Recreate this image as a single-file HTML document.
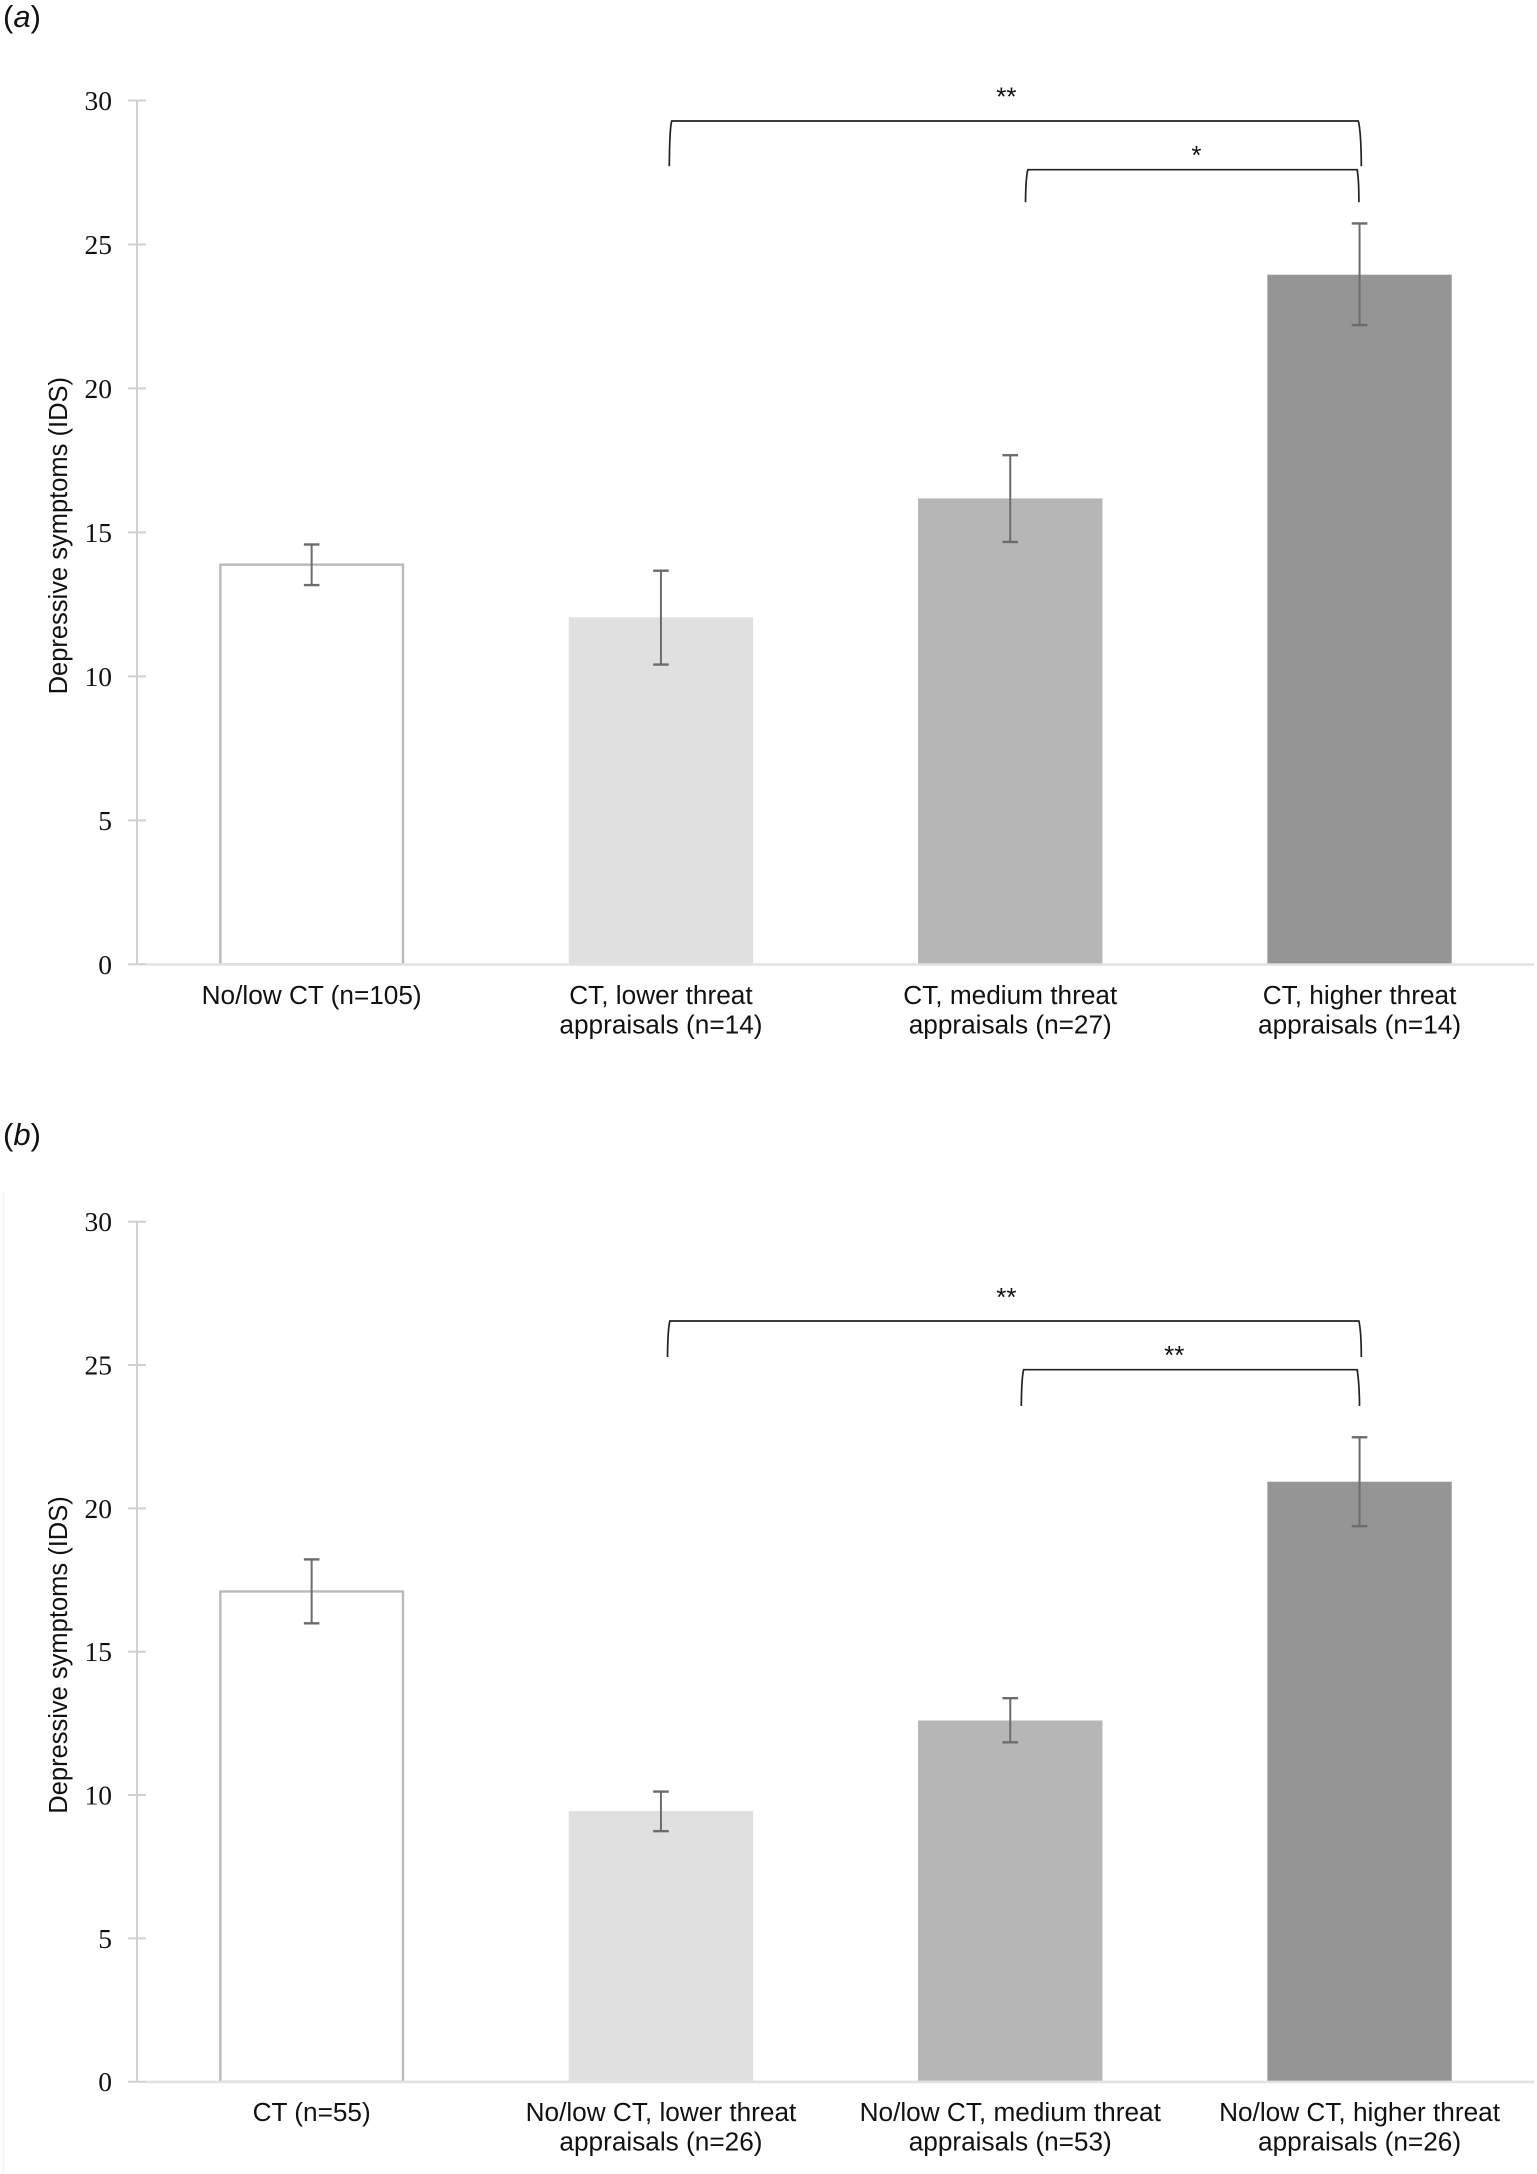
<!DOCTYPE html>
<html lang="en">
<head>
<meta charset="utf-8">
<title>Depressive symptoms by threat appraisals</title>
<style>
html,body{margin:0;padding:0;background:#fff;}
svg{display:block;}
.sans{font-family:"Liberation Sans",Arial,sans-serif;fill:#111;}
.serif{font-family:"Liberation Serif","Times New Roman",serif;fill:#111;}
</style>
</head>
<body>
<svg id="figure" xmlns="http://www.w3.org/2000/svg" width="1537" height="2174" viewBox="0 0 1537 2174">
  <rect x="0" y="0" width="1537" height="2174" fill="#ffffff"/>
  <line x1="3.5" y1="1193" x2="3.5" y2="2174" stroke="#f3f3f3" stroke-width="1.5"/>

  <text class="sans" x="3" y="27" font-size="31">(<tspan font-style="italic">a</tspan>)</text>
  <text class="sans" x="3" y="1145" font-size="31">(<tspan font-style="italic">b</tspan>)</text>

  <g id="panel-a"></g>
  <g id="panel-b"></g>

  <g fill="none" stroke="#222" stroke-width="1.7">
    <path d="M669.3,166.3 C669.5,142 670.3,126 671.7,121 L1358.3,121 C1359.8,126 1361.3,142 1361.3,166.3"/>
    <path d="M1025.5,202.3 C1025.7,186 1026.5,174 1027.9,169.7 L1357.1,169.7 C1358,174 1358.9,186 1358.9,202.3"/>
  </g>
  <text class="sans" x="1006.4" y="105.5" font-size="26" text-anchor="middle">**</text>
  <text class="sans" x="1196.4" y="163.8" font-size="26" text-anchor="middle">*</text>

  <g fill="none" stroke="#222" stroke-width="1.7">
    <path d="M667.5,1357 C667.7,1338 668.5,1326 669.9,1321 L1358.9,1321 C1360,1326 1361.3,1338 1361.3,1357"/>
    <path d="M1021.3,1406 C1021.5,1388 1022.3,1374 1023.7,1369.7 L1357.1,1369.7 C1358,1374 1359.5,1388 1359.5,1406"/>
  </g>
  <text class="sans" x="1006.4" y="1306.1" font-size="26" text-anchor="middle">**</text>
  <text class="sans" x="1174.3" y="1364.1" font-size="26" text-anchor="middle">**</text>
</svg>
<script>
// Chart data
const yTicks = [0, 5, 10, 15, 20, 25, 30];
const yTitle = "Depressive symptoms (IDS)";

const categoriesA = [
  ["No/low CT (n=105)"],
  ["CT, lower threat", "appraisals (n=14)"],
  ["CT, medium threat", "appraisals (n=27)"],
  ["CT, higher threat", "appraisals (n=14)"]
];
const meansA = [13.88, 12.05, 16.18, 23.95];
const upperA = [14.58, 13.67, 17.68, 25.73];
const lowerA = [13.17, 10.41, 14.67, 22.2];

const categoriesB = [
  ["CT (n=55)"],
  ["No/low CT, lower threat", "appraisals (n=26)"],
  ["No/low CT, medium threat", "appraisals (n=53)"],
  ["No/low CT, higher threat", "appraisals (n=26)"]
];
const meansB = [17.1, 9.44, 12.6, 20.93];
const upperB = [18.22, 10.12, 13.38, 22.48];
const lowerB = [15.99, 8.74, 11.84, 19.38];

const barFills = ["#ffffff", "#e0e0e0", "#b6b6b6", "#959595"];

const NS = "http://www.w3.org/2000/svg";
const PLOT_LEFT = 137, PLOT_RIGHT = 1534, BAND = 349.3, BAR_W = 184.4, CAP_W = 15.6;

function make(parent, tag, attrs, text) {
  const el = document.createElementNS(NS, tag);
  for (const k in attrs) el.setAttribute(k, attrs[k]);
  if (text !== undefined) el.textContent = text;
  parent.appendChild(el);
  return el;
}

function drawPanel(rootId, prefix, y30px, y0px, categories, means, upper, lower) {
  const root = document.getElementById(rootId);
  const yMax = yTicks[yTicks.length - 1];
  const yScale = v => y0px - (v / yMax) * (y0px - y30px);
  const xCenter = i => PLOT_LEFT + BAND * (i + 0.5);

  // y axis title
  const midY = (y0px + y30px) / 2 + 3.3;
  const title = make(root, "text", {
    class: "sans", "font-size": 25.5, "text-anchor": "middle",
    transform: "translate(67," + midY + ") rotate(-90)"
  }, yTitle);
  
  

  // y axis line
  const axis = make(root, "line", {
    x1: PLOT_LEFT, x2: PLOT_LEFT, y1: yScale(yMax), y2: yScale(0),
    stroke: "#d0d0d0", "stroke-width": 2
  });
  
  

  // ticks and tick labels
  yTicks.forEach(t => {
    const tick = make(root, "line", {
      x1: 128, x2: 146, y1: yScale(t), y2: yScale(t),
      stroke: "#d0d0d0", "stroke-width": 2
    });
    
    
    const label = make(root, "text", {
      class: "serif", x: 112, y: yScale(t) + 9.5, "font-size": 27.5, "text-anchor": "end"
    }, String(t));
    
    
  });

  // bars
  means.forEach((m, i) => {
    const outlined = i === 0;
    const inset = outlined ? 0.9 : 0;
    const bar = make(root, "rect", {
      x: xCenter(i) - BAR_W / 2 + inset,
      y: yScale(m),
      width: BAR_W - 2 * inset,
      height: yScale(0) - yScale(m),
      fill: barFills[i],
      stroke: outlined ? "#b9b9b9" : "none",
      "stroke-width": outlined ? 2.4 : 0
    });
    
    
  });

  // x axis baseline
  const base = make(root, "line", {
    x1: 146, x2: PLOT_RIGHT, y1: yScale(0) + 0.2, y2: yScale(0) + 0.2,
    stroke: "#e2e2e2", "stroke-width": 2.6
  });
  
  

  // error bars
  means.forEach((m, i) => {
    const cx = xCenter(i);
    const g = make(root, "g", { stroke: "#6c6c6c" });
    
    
    make(g, "line", { x1: cx, x2: cx, y1: yScale(upper[i]), y2: yScale(lower[i]), "stroke-width": 2 });
    make(g, "line", { x1: cx - CAP_W / 2, x2: cx + CAP_W / 2, y1: yScale(upper[i]), y2: yScale(upper[i]), "stroke-width": 2.4 });
    make(g, "line", { x1: cx - CAP_W / 2, x2: cx + CAP_W / 2, y1: yScale(lower[i]), y2: yScale(lower[i]), "stroke-width": 2.4 });
  });

  // category labels
  categories.forEach((lines, i) => {
    const t = make(root, "text", { class: "sans", "font-size": 26.2, "text-anchor": "middle" });
    
    
    lines.forEach((line, j) => {
      make(t, "tspan", { x: xCenter(i), y: yScale(0) + 39.5 + j * 29.5 }, line);
    });
  });
}

drawPanel("panel-a", "panel-a", 100.5, 964.3, categoriesA, meansA, upperA, lowerA);
drawPanel("panel-b", "panel-b", 1221.7, 2081.7, categoriesB, meansB, upperB, lowerB);
</script>
</body>
</html>
